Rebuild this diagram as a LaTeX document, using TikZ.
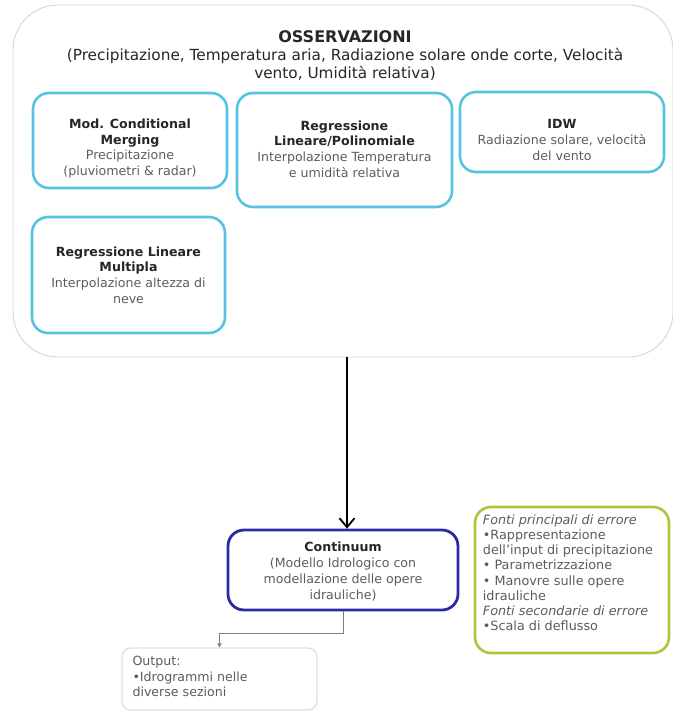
\documentclass[tikz,border=0pt]{standalone}
\usepackage{fontspec}
\setmainfont{DejaVu Sans}
\usetikzlibrary{positioning,arrows.meta}

\definecolor{obsgray}{HTML}{D4D4D4}
\definecolor{methblue}{HTML}{55C3E0}
\definecolor{modblue}{HTML}{2A2AA6}
\definecolor{errgreen}{HTML}{A8C83E}
\definecolor{outgreen}{HTML}{D2EBCB}
\definecolor{bodygray}{HTML}{5C5C5C}
\definecolor{headgray}{HTML}{262626}

\newcommand{\hd}[1]{\textcolor{headgray}{\bfseries #1}}

\tikzset{
  method/.style={draw=methblue, line width=2.6pt, rounded corners=16pt},
  mtext/.style={align=center, inner sep=0pt, text=bodygray,
    font=\fontsize{12.6}{15.7}\selectfont},
  ltext/.style={align=left, inner sep=0pt, text=bodygray, anchor=north west,
    font=\fontsize{12.8}{15.1}\selectfont},
  flow/.style={line width=1.8pt, -{Straight Barb[length=9pt,width=15pt]}},
  link/.style={draw=gray, line width=0.7pt, -{Triangle[length=4pt,width=4.5pt]}},
}

\begin{document}
\begin{tikzpicture}[x=1pt, y=-1pt]
    \useasboundingbox (0,0) rectangle (672,712);

    %% Observations

    \node[draw=obsgray, line width=0.9pt, rounded corners=45pt,
      minimum width=660pt, minimum height=352pt] (obs) at (343,181) {};
    \node[font=\fontsize{16}{18}\selectfont\bfseries, text=headgray] (obstitle) at (345,37) {OSSERVAZIONI};
    \node[align=center, inner sep=0pt, text=headgray, font=\fontsize{15.3}{18}\selectfont]
      (obsvars) at (345,64)
      {(Precipitazione, Temperatura aria, Radiazione solare onde corte, Velocità\\vento, Umidità relativa)};

    % Interpolation methods
    \node[method, minimum width=194pt, minimum height=95pt] (cm) at (130,140.5) {};
    \node[mtext] (cmtxt) at ([yshift=-8pt]cm.center)
      {\hd{Mod. Conditional}\\\hd{Merging}\\Precipitazione\\(pluviometri \& radar)};

    \node[method, minimum width=215pt, minimum height=114pt] (reg) at (344.5,150) {};
    \node[mtext] (regtxt) at ([yshift=1pt]reg.center)
      {\hd{Regressione}\\\hd{Lineare/Polinomiale}\\Interpolazione Temperatura\\e umidità relativa};

    \node[method, minimum width=204pt, minimum height=80pt] (idw) at (562,132) {};
    \node[mtext] (idwtxt) at ([yshift=-8pt]idw.center)
      {\hd{IDW}\\Radiazione solare, velocità\\del vento};

    \node[method, minimum width=193pt, minimum height=116pt] (mlr) at (128.5,275) {};
    \node[mtext] (mlrtxt) at (mlr.center)
      {\hd{Regressione Lineare}\\\hd{Multipla}\\Interpolazione altezza di\\neve};

    %% Hydrological model

    \node[draw=modblue, line width=2.8pt, rounded corners=16pt,
      minimum width=230pt, minimum height=80pt] (mod) at (343,570) {};
    \node[mtext] (modtxt) at ([yshift=-1.5pt]mod.center)
      {\hd{Continuum}\\(Modello Idrologico con\\modellazione delle opere\\idrauliche)};

    \draw[flow] (obs.south -| 347,0) -- (mod.north -| 347,0);

    % Error sources
    \node[draw=errgreen, line width=2.6pt, rounded corners=16pt,
      minimum width=194pt, minimum height=146pt] (err) at (572,580) {};
    \node[ltext] (errtxt) at ([xshift=9pt,yshift=-9pt]err.north west)
      {\textit{Fonti principali di errore}\\•Rappresentazione\\dell’input di precipitazione\\
       • Parametrizzazione\\• Manovre sulle opere\\idrauliche\\
       \textit{Fonti secondarie di errore}\\•Scala di deflusso};

    % Output
    \node[draw=outgreen, line width=1.4pt, rounded corners=9pt,
      minimum width=195pt, minimum height=62pt] (out) at (219.5,679) {};
    \node[ltext, font=\fontsize{12.6}{15.5}\selectfont] (outtxt) at ([xshift=11pt,yshift=-9pt]out.north west)
      {Output:\\•Idrogrammi nelle\\diverse sezioni};

    \draw[link] (mod.south) -- ++(0,22) -| (out.north);

\end{tikzpicture}
\end{document}
